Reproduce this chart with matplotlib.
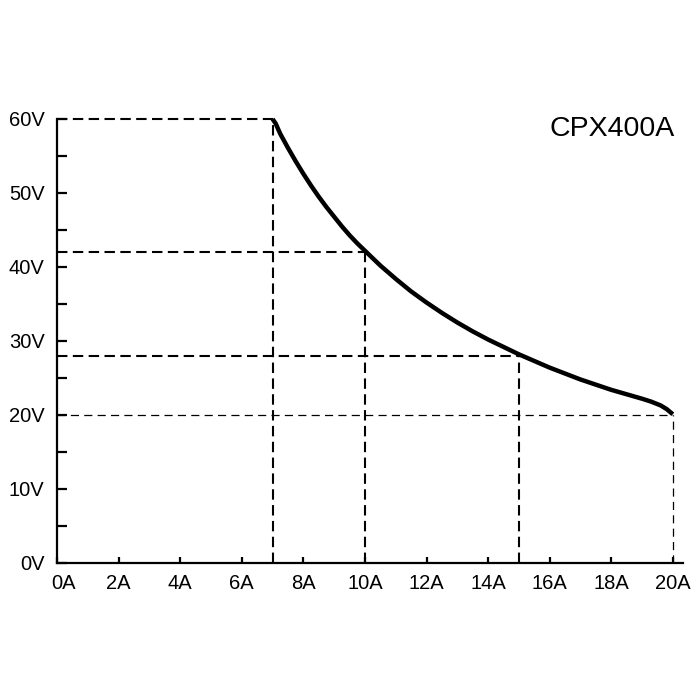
import matplotlib
matplotlib.use("Agg")
import matplotlib.pyplot as plt
from matplotlib.ticker import MultipleLocator, FixedLocator
import matplotlib.transforms as mtransforms

plt.rcParams['font.family'] = ['Liberation Sans', 'DejaVu Sans']

# Power-limit curve (current A, voltage V)
curve_current = [7.0, 7.1, 7.25, 7.5, 7.75, 8.0, 8.25, 8.5, 8.75, 9.0, 9.25, 9.5,
                 9.75, 10.0, 10.5, 11.0, 11.5, 12.0, 12.5, 13.0, 13.5, 14.0,
                 14.5, 15.0, 15.5, 16.0, 16.5, 17.0, 17.5, 18.0, 18.5, 19.0,
                 19.3, 19.6, 19.8, 20.0]
curve_voltage = [60.0, 59.4, 58.0, 56.1, 54.3, 52.6, 51.0, 49.5, 48.1, 46.8,
                 45.5, 44.3, 43.2, 42.2, 40.2, 38.4, 36.7, 35.2, 33.8, 32.5,
                 31.3, 30.2, 29.2, 28.2, 27.3, 26.4, 25.6, 24.8, 24.1, 23.4,
                 22.8, 22.2, 21.8, 21.3, 20.8, 20.1]

# Marked operating points (current A, voltage V)
mark_current = [7, 10, 15]
mark_voltage = [60, 42, 28]
end_current = 20
end_voltage = 20

x_ticks = [0, 2, 4, 6, 8, 10, 12, 14, 16, 18, 20]
x_labels = [f"{v}A" for v in x_ticks]
y_ticks = [0, 10, 20, 30, 40, 50, 60]
y_labels = [f"{v}V" for v in y_ticks]
title_text = "CPX400A"

fig = plt.figure(figsize=(7, 7), dpi=100)
ax = fig.add_axes([57/700, (700-563)/700, (683-57)/700, (563-119)/700])
ax.set_xlim(0, 20.33)
ax.set_ylim(0, 60)

for s in ['top', 'right']:
    ax.spines[s].set_visible(False)
for s in ['left', 'bottom']:
    ax.spines[s].set_linewidth(1.6)

thick = dict(color='black', linewidth=1.5, dashes=(5, 2.6), clip_on=False)
thin = dict(color='black', linewidth=0.9, dashes=(6.5, 4.2), clip_on=False)

for c, v in zip(mark_current, mark_voltage):
    ax.plot([0, c], [v, v], **thick)
    ax.plot([c, c], [0, v], **thick)
ax.plot([0, end_current], [end_voltage, end_voltage], **thin)
ax.plot([end_current, end_current], [0, end_voltage], **thin)

ax.plot(curve_current, curve_voltage, color='black', linewidth=3.2,
        solid_capstyle='butt', solid_joinstyle='round', clip_on=False, zorder=5)

ax.xaxis.set_major_locator(FixedLocator(x_ticks))
ax.set_xticklabels(x_labels)
ax.yaxis.set_major_locator(FixedLocator(y_ticks))
ax.set_yticklabels(y_labels)
ax.yaxis.set_minor_locator(MultipleLocator(5))

ax.tick_params(axis='x', which='major', direction='in', length=4, width=1.6,
               labelsize=14.5, pad=8)
ax.tick_params(axis='y', which='both', direction='in', length=7, width=1.6,
               labelsize=14.5, pad=9)

# shift "0A" slightly right as in reference
lbl0 = ax.get_xticklabels()[0]
lbl0.set_transform(lbl0.get_transform() + mtransforms.ScaledTranslation(7/100, 0, fig.dpi_scale_trans))

ax.text(612/700, (700-129)/700, title_text, transform=fig.transFigure,
        ha='center', va='center', fontsize=20.5)

fig.savefig("out.png", dpi=100, facecolor='white')
